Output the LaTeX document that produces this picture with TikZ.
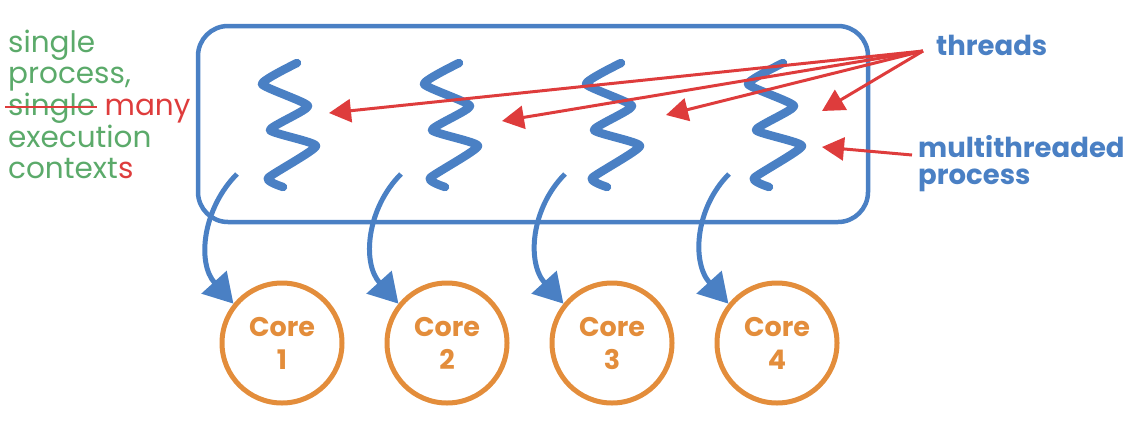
\documentclass[tikz,border=0pt]{standalone}
\usepackage{fontspec}
\setmainfont{Poppins}
\usetikzlibrary{arrows.meta,calc}
\definecolor{tblue}{HTML}{4A80C4}
\definecolor{tred}{HTML}{DE3C3C}
\definecolor{tgreen}{HTML}{5BAA6A}
\definecolor{torange}{HTML}{E38D3B}
\tikzset{
  thread/.style={tblue, line width=8.5pt, line cap=round, line join=round},
  procbox/.style={draw=tblue, line width=4.5pt, rounded corners=30pt},
  corenode/.style={circle, draw=torange, line width=5pt, minimum size=120pt, inner sep=0pt,
    align=center, text=torange, font=\bfseries\fontsize{27}{33}\selectfont},
  sched/.style={tblue, line width=5pt, -{Triangle[length=29pt,width=33pt]}},
  redarrow/.style={tred, line width=3pt, -{Triangle[length=22pt,width=23pt]}},
  lefttext/.style={anchor=base west, inner sep=0pt, font=\fontsize{29.5}{31}\selectfont},
  label/.style={anchor=base west, inner sep=0pt, text=tblue, font=\bfseries\fontsize{27.5}{25}\selectfont}
}
\begin{document}
\begin{tikzpicture}[x=1pt,y=-1pt]
\useasboundingbox (0,0) rectangle (1145,424);
% process box
\draw[procbox] (198,26) rectangle (868,222);
% threads
\foreach \i in {0,1,2,3}
  \draw[thread, shift={(\i*162,0)}] plot[smooth, tension=0.3]
    coordinates {(297,63) (262,84) (308,106) (270,130) (316,146) (268,178) (283,187)};
% cores
\node[corenode] (c1) at (282,343) {Core\\1};
\node[corenode] (c2) at (447,343) {Core\\2};
\node[corenode] (c3) at (612,343) {Core\\3};
\node[corenode] (c4) at (777,343) {Core\\4};
% scheduling arrows
\foreach \i in {1,2,3,4} {
  \coordinate (s\i) at ({237+(\i-1)*164},174);
  \draw[sched] (s\i) .. controls +(-34,34) and +(-37,-41) .. (c\i.141);
}
% labels
\node[label] (th) at (936,55) {threads};
\node[label, text depth=0pt] (mt) at (918,157) {multithreaded};
\node[label, text height=14pt] (pr) at (918,184) {process};
\coordinate (thsrc) at (923,51);
\coordinate (mtsrc) at (912,155);
\coordinate (t1) at (329,113);
\coordinate (t2) at (502,121);
\coordinate (t3) at (666,115);
\coordinate (t4) at (822,111);
\coordinate (t5) at (822,147);
\foreach \t in {t1,t2,t3,t4}
  \draw[redarrow] (thsrc) -- (\t);
\draw[redarrow] (mtsrc) -- (t5);
% left text
\node[lefttext, text=tgreen] (l1) at (8,52) {single};
\node[lefttext, text=tgreen] (l2) at (8,83) {process,};
\node[lefttext, text=tgreen] (l3) at (8,115) {single};
\node[lefttext, text=tred] (l3b) at ([xshift=9pt]l3.base east) {many};
\node[lefttext, text=tgreen] (l4) at (8,147) {execution};
\node[lefttext, text=tgreen] (l5) at (8,178) {context};
\node[lefttext, text=tred] (l5b) at (l5.base east) {s};
\draw[tred, line width=2.5pt] ([xshift=-3pt,yshift=8pt]l3.base west) -- ([xshift=2pt,yshift=8pt]l3.base east);
\end{tikzpicture}
\end{document}
